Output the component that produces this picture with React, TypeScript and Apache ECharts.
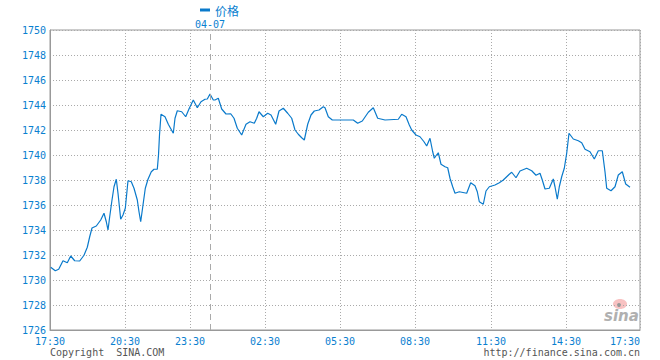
import React, { useEffect, useRef } from "react";
import * as echarts from "echarts";

// x positions along the trading-time axis (axis units) and price readings
const positions = [
  0.7, 5.3, 8.7, 13, 17.3, 20.7, 24.7, 29.7, 34, 37.3, 39.7, 42, 46.3, 50.7, 54, 56.3, 58, 59.7, 62, 64,
  66.3, 68, 70.7, 73, 75.3, 78, 81.3, 84, 87.3, 89, 90.7, 93, 95.3, 98, 101.3, 104, 107.3, 108.5, 109.5, 111,
  115, 118.3, 123.3, 125, 127.3, 131.7, 135.7, 139.3, 143.3, 147.3, 151, 155, 157.3, 160, 163.3, 165, 168.3, 171.7, 176, 180.7,
  184, 187.3, 191.7, 196, 200, 204.3, 206.7, 209, 213.3, 217.7, 221, 225.7, 229, 233.3, 237.7, 241.7, 245, 248.3, 251.7, 254.3,
  257.7, 261, 264.3, 269, 273.3, 275, 278.3, 282.3, 303.3, 307.7, 312.3, 318.3, 323.3, 327.7, 335, 348.3, 351.7, 356, 359.3, 361.7,
  366, 370, 374, 376.7, 380, 382.7, 384.3, 386, 388.3, 391, 395, 397.7, 400, 402.7, 405, 409.3, 416.7, 420.7, 425, 427.3,
  429.3, 433.3, 436, 439.3, 445, 449.3, 453.3, 459.3, 461.7, 466, 470, 476.7, 481.7, 486, 490, 492.3, 495, 499.3, 503.3, 505,
  507.3, 509.3, 511.7, 514.3, 516.7, 519, 523.3, 528.3, 531.7, 535, 540, 544.3, 548.3, 552.3, 555, 556.7, 561, 565, 568.3, 572.3,
  575.7, 580,
];
const prices = [
  1731.02, 1730.74, 1730.86, 1731.54, 1731.38, 1731.92, 1731.54, 1731.52, 1731.98, 1732.62, 1733.46, 1734.16, 1734.32, 1734.8, 1735.34, 1734.66, 1734.0, 1735.06, 1736.4, 1737.46,
  1738.06, 1736.94, 1734.86, 1735.2, 1735.74, 1737.94, 1737.86, 1737.34, 1736.4, 1735.46, 1734.66, 1736.0, 1737.34, 1738.06, 1738.66, 1738.86, 1738.86, 1740.0, 1741.6, 1743.26,
  1743.06, 1742.46, 1741.74, 1742.94, 1743.54, 1743.46, 1743.06, 1743.74, 1744.4, 1743.78, 1744.26, 1744.46, 1744.48, 1744.88, 1744.4, 1744.4, 1744.54, 1743.68, 1743.28, 1743.3,
  1742.94, 1742.14, 1741.6, 1742.46, 1742.66, 1742.54, 1742.94, 1743.46, 1743.06, 1743.34, 1743.2, 1742.46, 1743.52, 1743.74, 1743.34, 1742.94, 1742.0, 1741.66, 1741.38, 1741.2,
  1742.46, 1743.2, 1743.52, 1743.6, 1743.86, 1743.78, 1743.06, 1742.8, 1742.8, 1742.54, 1742.72, 1743.42, 1743.78, 1742.94, 1742.8, 1742.86, 1743.26, 1743.06, 1742.4, 1742.0,
  1741.6, 1741.46, 1741.06, 1740.72, 1741.34, 1740.26, 1739.74, 1739.94, 1740.18, 1739.26, 1739.06, 1738.98, 1738.14, 1737.46, 1736.94, 1737.06, 1736.94, 1737.78, 1737.54, 1737.06,
  1736.26, 1736.06, 1737.12, 1737.46, 1737.6, 1737.78, 1738.0, 1738.46, 1738.62, 1738.18, 1738.72, 1738.94, 1738.74, 1738.38, 1738.54, 1738.0, 1737.28, 1737.34, 1738.08, 1737.46,
  1736.46, 1737.46, 1738.26, 1738.94, 1740.14, 1741.74, 1741.28, 1741.14, 1740.98, 1740.46, 1740.26, 1739.68, 1740.34, 1740.34, 1738.66, 1737.34, 1737.14, 1737.46, 1738.4, 1738.66,
  1737.68, 1737.42,
];

const tickPositions = [0, 75, 140, 215, 290, 365, 441, 516, 590];
const tickLabels = ["17:30", "20:30", "23:30", "02:30", "05:30", "08:30", "11:30", "14:30", "17:30"];
const dateMarkPosition = 160;
const dateMarkLabel = "04-07";
const seriesName = "价格";

const BLUE = "#0a80d0";
const LINE = "#0a7acb";
const MONO = "'DejaVu Sans Mono', 'Liberation Mono', monospace";

export default function App() {
  const ref = useRef<HTMLDivElement>(null);
  useEffect(() => {
    if (!ref.current) return;
    const chart = echarts.init(ref.current, undefined, { renderer: "svg" });
    const data = positions.map((p, i) => [p, prices[i]]);
    chart.setOption({
      animation: false,
      backgroundColor: "#fff",
      grid: { left: 50, right: 20, top: 30, bottom: 30, show: true, borderColor: "#999", borderWidth: 1 },
      legend: {
        data: [seriesName],
        left: 200,
        top: 4,
        padding: 0,
        itemWidth: 10,
        itemHeight: 3,
        icon: "rect",
        textStyle: { color: BLUE, fontSize: 12, fontFamily: "'Noto Sans CJK SC', sans-serif" },
      },
      xAxis: {
        type: "value",
        min: 0,
        max: 590,
        axisLine: { show: true, lineStyle: { color: "#999", width: 1 } },
        axisTick: { show: false, customValues: tickPositions },
        axisLabel: {
          customValues: tickPositions,
          color: BLUE,
          fontSize: 10,
          fontFamily: MONO,
          margin: 6,
          alignMaxLabel: "right",
          formatter: (v: number) => {
            const i = tickPositions.findIndex((t) => Math.abs(t - v) < 0.5);
            return i >= 0 ? tickLabels[i] : "";
          },
        },
        splitLine: { show: true, lineStyle: { color: "#aaa", type: [1, 2], width: 1 } },
      },
      yAxis: {
        type: "value",
        min: 1726,
        max: 1750,
        interval: 2,
        axisLine: { show: true, lineStyle: { color: "#999", width: 1 } },
        axisTick: { show: false },
        axisLabel: {
          color: BLUE,
          fontSize: 10,
          fontFamily: MONO,
          margin: 4,
          formatter: (v: number) => String(Math.round(v)),
        },
        splitLine: { show: true, lineStyle: { color: "#aaa", type: [1, 2], width: 1 } },
      },
      series: [
        {
          name: seriesName,
          type: "line",
          data,
          showSymbol: false,
          symbol: "none",
          color: LINE,
          lineStyle: { color: LINE, width: 1.2 },
          markLine: {
            silent: true,
            symbol: ["none", "none"],
            data: [{ xAxis: dateMarkPosition }],
            lineStyle: { color: "#aaa", type: [6, 4], width: 1 },
            label: {
              show: true,
              position: "end",
              formatter: dateMarkLabel,
              color: BLUE,
              fontSize: 10,
              fontFamily: MONO,
              distance: 1,
            },
          },
        },
      ],
      graphic: [
        {
          type: "text",
          left: 50,
          top: 347,
          style: { text: "Copyright  SINA.COM", fill: "#555", font: `10px ${MONO}` },
        },
        {
          type: "text",
          right: 20,
          top: 347,
          style: { text: "http://finance.sina.com.cn", fill: "#555", font: `10px ${MONO}` },
        },
        {
          type: "ellipse",
          shape: { cx: 620, cy: 304, rx: 7, ry: 5 },
          style: { fill: "#f6b3b3", opacity: 0.8 },
          silent: true,
        },
        {
          type: "circle",
          shape: { cx: 619, cy: 305, r: 2 },
          style: { fill: "#999" },
          silent: true,
        },
        {
          type: "text",
          x: 604,
          y: 308,
          style: {
            text: "sina",
            fill: "#b0b0b0",
            font: `italic bold 15px 'DejaVu Sans', sans-serif`,
          },
          silent: true,
        },
      ],
    });
    return () => chart.dispose();
  }, []);
  return <div ref={ref} style={{ width: 660, height: 360, position: "absolute", left: 0, top: 0 }} />;
}
